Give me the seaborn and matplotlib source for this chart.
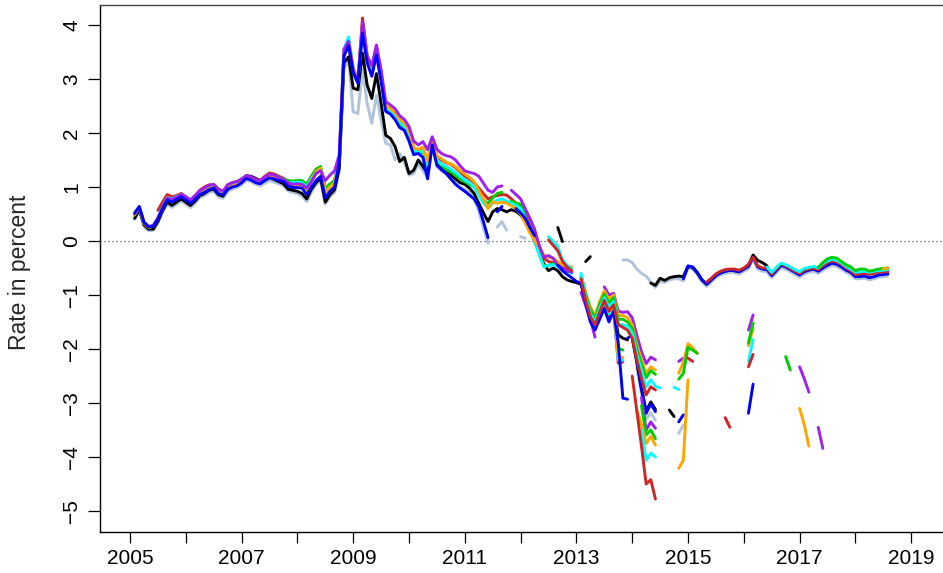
import matplotlib
matplotlib.use("Agg")
import matplotlib.pyplot as plt
import numpy as np
import pandas as pd
import seaborn as sns

NA = None
YEAR0 = 2005  # month index k is plotted at YEAR0 + k/12

# ---------------- colours ----------------
c_lsb = "#B0C4DE"
c_black = "#000000"
c_blue = "#0000FF"
c_red = "#CD2626"
c_green = "#00CD00"
c_cyan = "#00FFFF"
c_orange = "#FFA500"
c_purple = "#A020F0"

# ---------------- set A: long series 2005 - 2013 ----------------
lsb_a_k0 = 1
lsb_a = [0.40, 0.55, 0.27, 0.19, 0.20, 0.33, 0.53, 0.68, 0.62, 0.68,
         0.74, 0.68, 0.62, 0.70, 0.80, 0.84, 0.90, 0.92, 0.82, 0.79,
         0.91, 0.96, 0.99, 1.04, 1.12, 1.10, 1.05, 1.02, 1.07, 1.12,
         1.09, 1.06, 1.02, 0.93, 0.90, 0.88, 0.83, 0.73, 0.90, 1.04,
         1.11, 0.68, 0.82, 0.90, 1.30, 3.20, 3.35, 2.39, 2.36, 3.17,
         2.55, 2.18, 2.70, 2.24, 1.81, 1.78, 1.50, 1.62, 1.45, 1.22,
         1.25, 1.42, 1.30, 1.18, 1.80, 1.38, 1.30, 1.24, 1.15, 1.08,
         1.00, 0.96, 0.90, 0.78, 0.55, 0.25, -0.04, NA, 0.26, 0.36,
         0.20, NA, NA, 0.08, 0.05]

black_a_k0 = 1
black_a = [0.42, 0.58, 0.30, 0.22, 0.22, 0.36, 0.56, 0.72, 0.66, 0.72,
           0.78, 0.72, 0.66, 0.74, 0.84, 0.88, 0.94, 0.96, 0.86, 0.83,
           0.96, 1.02, 1.06, 1.12, 1.21, 1.20, 1.16, 1.12, 1.14, 1.18,
           1.14, 1.10, 1.06, 0.96, 0.94, 0.92, 0.88, 0.78, 0.96, 1.08,
           1.16, 0.72, 0.86, 0.95, 1.35, 3.30, 3.41, 2.83, 2.80, 3.48,
           2.89, 2.64, 3.10, 2.55, 1.96, 1.90, 1.75, 1.47, 1.55, 1.25,
           1.31, 1.50, 1.38, 1.25, 1.88, 1.45, 1.36, 1.30, 1.22, 1.15,
           1.08, 1.05, 0.98, 0.88, 0.70, 0.52, 0.36, 0.54, 0.60, 0.58,
           0.54, 0.58, 0.55, 0.48, 0.36, 0.20, 0.00, -0.22, -0.42, -0.55,
           -0.50, -0.55, -0.66, -0.72, -0.75, -0.77, -0.80, -1.09, -1.40, -1.62,
           -1.35, -1.19, -1.46, -1.25, -1.74, -1.80, -1.83]

blue_a_k0 = 1
blue_a = [0.52, 0.64, 0.35, 0.26, 0.27, 0.40, 0.60, 0.76, 0.72, 0.77,
          0.82, 0.76, 0.70, 0.77, 0.86, 0.90, 0.95, 0.98, 0.88, 0.85,
          0.96, 1.00, 1.02, 1.08, 1.16, 1.13, 1.08, 1.06, 1.12, 1.17,
          1.15, 1.12, 1.10, 1.02, 0.99, 0.99, 0.98, 0.86, 1.00, 1.12,
          1.20, 0.80, 0.92, 1.00, 1.45, 3.42, 3.62, 3.12, 2.92, 3.85,
          3.30, 3.05, 3.45, 2.95, 2.40, 2.35, 2.25, 2.10, 2.05, 1.85,
          1.60, 1.62, 1.55, 1.15, 1.78, 1.40, 1.32, 1.25, 1.15, 1.05,
          0.98, 0.92, 0.85, 0.78, 0.64, 0.36, 0.06, NA, 0.54, 0.64,
          NA, NA, 0.60, 0.52, 0.42, 0.25, 0.10, NA, NA, NA,
          NA, -0.45, -0.55, -0.62, -0.68, -0.75, -0.78, -1.15, -1.50, -1.65,
          -1.45, -1.25, -1.50, -1.30, -1.89, -2.91, -2.93]

red_a_k0 = 6
red_a = [0.57, 0.72, 0.86, 0.82, 0.84,
         0.88, 0.82, 0.76, 0.84, 0.94, 1.00, 1.04, 1.04, 0.96, 0.92,
         1.04, 1.08, 1.10, 1.14, 1.20, 1.18, 1.13, 1.12, 1.20, 1.26,
         1.24, 1.20, 1.16, 1.10, 1.06, 1.06, 1.06, 1.00, 1.12, 1.25,
         1.32, 0.95, 1.05, 1.12, 1.50, 3.50, 3.65, 3.20, 2.95, 4.13,
         3.45, 3.20, 3.60, 3.10, 2.50, 2.45, 2.35, 2.25, 2.15, 2.05,
         1.72, 1.68, 1.72, 1.45, 1.88, 1.55, 1.50, 1.45, 1.42, 1.36,
         1.28, 1.20, 1.15, 1.08, 0.98, 0.88, 0.78, 0.82, 0.84, 0.86,
         0.85, 0.78, 0.70, 0.67, 0.50, 0.28, 0.05, -0.18, -0.32, -0.38,
         -0.40, -0.41, -0.45, -0.50, -0.55, NA, -0.75, -1.12, -1.45, -1.60,
         -1.38, -1.18, -1.38, -1.28, -2.26, -2.24]

green_a_k0 = 1
green_a = [0.48, 0.62, 0.34, 0.26, 0.28, 0.42, 0.62, 0.78, 0.75, 0.80,
           0.84, 0.80, 0.73, 0.80, 0.89, 0.93, 0.98, 1.00, 0.92, 0.88,
           1.00, 1.03, 1.05, 1.11, 1.18, 1.16, 1.11, 1.09, 1.16, 1.22,
           1.20, 1.18, 1.15, 1.12, 1.11, 1.12, 1.12, 1.05, 1.20, 1.33,
           1.38, 0.98, 1.05, 1.12, 1.48, 3.50, 3.72, 3.18, 2.95, 3.95,
           3.38, 3.15, 3.55, 3.05, 2.42, 2.38, 2.25, 2.15, 2.10, 1.98,
           1.65, 1.62, 1.66, 1.40, 1.85, 1.50, 1.40, 1.32, 1.28, 1.22,
           1.15, 1.10, 1.05, 1.00, 0.88, 0.75, 0.70, 0.80, 0.88, 0.90,
           NA, 0.74, 0.70, 0.68, 0.45, 0.25, 0.02, -0.22, -0.47, -0.45,
           -0.42, -0.45, -0.50, -0.55, -0.58, NA, -0.70, -1.05, -1.35, -1.48,
           -1.25, -1.05, -1.25, -1.15, -1.99, -2.02]

cyan_a_k0 = 1
cyan_a = [0.50, 0.63, 0.34, 0.26, 0.28, 0.42, 0.62, 0.80, 0.78, 0.82,
          0.86, 0.80, 0.73, 0.80, 0.89, 0.93, 0.97, 0.99, 0.90, 0.87,
          0.99, 1.03, 1.05, 1.10, 1.17, 1.15, 1.10, 1.08, 1.14, 1.20,
          1.18, 1.15, 1.12, 1.08, 1.08, 1.09, 1.08, 1.00, 1.15, 1.28,
          1.34, 0.92, 1.00, 1.08, 1.48, 3.55, 3.78, 3.20, 2.95, 3.95,
          3.40, 3.15, 3.55, 3.05, 2.45, 2.40, 2.30, 2.20, 2.12, 2.00,
          1.68, 1.64, 1.68, 1.42, 1.86, 1.50, 1.42, 1.38, 1.33, 1.27,
          1.20, 1.13, 1.08, 1.00, 0.85, 0.70, 0.62, 0.70, 0.76, 0.78,
          0.74, 0.70, 0.66, 0.60, 0.42, 0.20, 0.00, -0.25, -0.48, -0.45,
          -0.44, -0.48, -0.52, -0.56, -0.60, NA, -0.68, -1.10, -1.42, -1.58,
          -1.35, -1.12, -1.35, -1.25, -2.20, -2.21]

orange_a_k0 = 1
orange_a = [0.49, 0.62, 0.33, 0.25, 0.27, 0.41, 0.60, 0.77, 0.74, 0.78,
            0.83, 0.78, 0.72, 0.78, 0.86, 0.92, 0.97, 0.99, 0.90, 0.86,
            0.98, 1.02, 1.04, 1.10, 1.17, 1.15, 1.10, 1.08, 1.15, 1.21,
            1.18, 1.15, 1.12, 1.06, 1.03, 1.04, 1.03, 0.95, 1.12, 1.28,
            1.35, 0.90, 1.00, 1.08, 1.50, 3.52, 3.68, 3.20, 2.97, 3.98,
            3.42, 3.22, 3.60, 3.12, 2.50, 2.45, 2.38, 2.25, 2.18, 2.05,
            1.72, 1.70, 1.74, 1.48, 1.88, 1.58, 1.52, 1.46, 1.43, 1.38,
            1.30, 1.24, 1.18, 1.10, 0.94, 0.78, 0.60, 0.73, 0.70, 0.72,
            0.70, 0.65, 0.60, 0.50, 0.33, 0.15, 0.02, -0.12, -0.26, -0.30,
            -0.32, -0.38, -0.44, -0.47, -0.48, NA, -0.72, -1.08, -1.38, -1.52,
            -1.28, -1.10, -1.30, -1.20, -2.14, -2.16]

purple_a_k0 = 1
purple_a = [0.50, 0.62, 0.35, 0.27, 0.29, 0.43, 0.62, 0.79, 0.77, 0.81,
            0.86, 0.82, 0.76, 0.84, 0.93, 0.98, 1.03, 1.05, 0.96, 0.92,
            1.04, 1.08, 1.10, 1.15, 1.21, 1.19, 1.14, 1.12, 1.18, 1.24,
            1.22, 1.18, 1.14, 1.08, 1.05, 1.06, 1.05, 0.98, 1.10, 1.25,
            1.30, 1.12, 1.22, 1.30, 1.60, 3.55, 3.70, 3.17, 2.95, 4.05,
            3.41, 3.25, 3.63, 3.17, 2.58, 2.52, 2.45, 2.32, 2.25, 2.12,
            1.85, 1.78, 1.84, 1.69, 1.93, 1.70, 1.62, 1.58, 1.56, 1.50,
            1.39, 1.30, 1.27, 1.25, 1.20, 1.07, 0.94, 0.90, 1.00, 1.02,
            NA, 0.94, 0.86, 0.78, 0.60, 0.42, 0.22, -0.08, -0.30, -0.27,
            -0.32, -0.45, -0.50, -0.55, -0.58, NA, -0.95, -1.20, -1.45, -1.78]

# ---------------- set B: 2012.5 onwards, upper fragments ----------------
purple_b_k0 = 102
purple_b = ([-0.85, -1.00, -0.97, -1.30, -1.32, -1.31, -1.42, -1.75, -2.05, -2.27, -2.15, -2.20]
            + [NA] * 4 + [-2.23, -2.17] + [NA] * 13 + [-1.65, -1.37]
            + [NA] * 9 + [-2.33, -2.55, -2.80])

orange_b_k0 = 97
orange_b = ([-0.62, -0.95, -1.22, -1.38, -1.12, -0.92, -1.08, -1.00, -1.38, -1.38,
             -1.42, -1.55, -1.92, -2.20, -2.45, -2.33, -2.39]
            + [NA] * 4 + [-2.45, -2.25, -1.90, -1.98, -2.08]
            + [NA] * 10 + [-1.94, -1.62])

green_b_k0 = 97
green_b = ([-0.65, -1.00, -1.28, -1.42, -1.18, -0.98, -1.15, -1.05, -1.45, -1.45,
            -1.50, -1.62, -2.00, -2.28, -2.53, -2.40, -2.47]
           + [NA] * 4 + [-2.56, -2.45, -1.97, -2.02, -2.08]
           + [NA] * 10 + [-1.89, -1.52] + [NA] * 6 + [-2.14, -2.39])

cyan_b_k0 = 90
cyan_b = ([0.08, -0.01, -0.10, -0.35, -0.45, -0.51, NA,
           -0.60, -1.05, -1.35, -1.50, -1.25, -1.05, -1.22, -1.12, -1.55, -1.55,
           -1.58, -1.70, -2.10, -2.40, -2.70, -2.57, -2.69, -2.72]
          + [NA] * 2 + [-2.71, -2.75] + [NA] * 14 + [-2.23, -1.83])

red_b_k0 = 90
red_b = ([0.02, -0.08, -0.18, -0.38, -0.48, -0.55, NA,
          -0.70, -1.10, -1.40, -1.55, -1.32, -1.10, -1.30, -1.18, -1.55, -1.60,
          -1.65, -1.80, -2.20, -2.55, -2.85, -2.70, -2.76]
         + [NA] * 6 + [-2.17, -2.23] + [NA] * 11 + [-2.33, -2.10])

# ---------------- set C: lower fragments ----------------
black_c_k0 = 92
black_c = ([0.25, -0.01, NA, NA, NA, NA, -0.38, -0.29]
           + [NA] * 8 + [-1.80, -2.25, -2.75, -3.15, -2.98, -3.12]
           + [NA] * 2 + [-3.13, -3.25])

blue_c_k0 = 107
blue_c = ([-1.80, -1.74, -2.22, -2.72, -3.19, -3.02, -3.16]
          + [NA] * 4 + [-3.35, -3.22] + [NA] * 13 + [-3.19, -2.65])

lsb_c_k0 = 109
lsb_c = [-2.35, -2.85, -3.30, -3.18, -3.32] + [NA] * 4 + [-3.56, -3.41]

purple_c_k0 = 110
purple_c = [-2.90, -3.50, -3.35, -3.47] + [NA] * 34 + [-3.45, -3.84]

green_c_k0 = 110
green_c = [-3.05, -3.59, -3.50, -3.66]

orange_c_k0 = 109
orange_c = ([-3.13, -3.40, -3.75, -3.62, -3.78] + [NA] * 4 + [-4.21, -4.06, -2.57]
            + [NA] * 23 + [-3.10, -3.40, -3.80])

cyan_c_k0 = 110
cyan_c = [-3.50, -4.06, -3.93, -4.00]

red_c_k0 = 108
red_c = [-2.50, -3.15, -3.80, -4.50, -4.42, -4.78] + [NA] * 14 + [-3.27, -3.45]

# ---------------- set D: upper group 2013.8 - 2018.6 ----------------
lsb_d_k0 = 106
lsb_d = [-0.35, -0.35, -0.40, -0.52, -0.60, -0.65, -0.76, -0.86, -0.74, -0.77, -0.72, -0.70, -0.70, -0.74,
         -0.50, -0.52, -0.62, -0.76, -0.84, -0.76, -0.68, -0.63, -0.60, -0.58,
         -0.59, -0.61, -0.56, -0.51, -0.34, -0.52, -0.56, -0.57, -0.68, -0.59,
         -0.49, -0.52, -0.57, -0.62, -0.67, -0.61, -0.58, -0.56, -0.60, -0.54,
         -0.49, -0.45, -0.47, -0.52, -0.58, -0.62, -0.70, -0.70, -0.69, -0.72,
         -0.70, -0.67, -0.66, -0.65]

black_d_k0 = 112
black_d = [-0.78, -0.82, -0.69, -0.73, -0.68, -0.66, -0.65, -0.66,
           -0.47, -0.49, -0.59, -0.72, -0.80, -0.72, -0.64, -0.59, -0.56, -0.54,
           -0.55, -0.57, -0.52, -0.45, -0.26, -0.36, -0.40, -0.46]

blue_d_k0 = 119
blue_d = [-0.70,
          -0.46, -0.48, -0.58, -0.72, -0.80, -0.72, -0.64, -0.59, -0.56, -0.54,
          -0.55, -0.57, -0.52, -0.47, -0.30, -0.48, -0.52, -0.53, -0.64, -0.55,
          -0.45, -0.48, -0.53, -0.58, -0.63, -0.57, -0.54, -0.52, -0.56, -0.50,
          -0.45, -0.41, -0.43, -0.48, -0.54, -0.58, -0.66, -0.66, -0.65, -0.68,
          -0.66, -0.63, -0.62, -0.61]

red_d_k0 = 124
red_d = [-0.76, -0.69, -0.61, -0.56, -0.53, -0.52,
         -0.52, -0.54, -0.50, -0.43, -0.30, -0.46, -0.50, -0.50, -0.61, -0.52,
         -0.42, -0.46, -0.51, -0.56, -0.60, -0.54, -0.52, -0.50, -0.53, -0.46,
         -0.40, -0.37, -0.39, -0.44, -0.50, -0.55, -0.62, -0.61, -0.60, -0.62,
         -0.60, -0.58, -0.57, -0.57]

cyan_d_k0 = 137
cyan_d = [-0.48, -0.58, -0.49,
          -0.41, -0.44, -0.48, -0.53, -0.57, -0.51, -0.49, -0.47, -0.50, -0.42,
          -0.37, -0.34, -0.36, -0.41, -0.47, -0.52, -0.58, -0.57, -0.56, -0.58,
          -0.56, -0.55, -0.54, -0.53]

green_d_k0 = 148
green_d = [-0.49, -0.40, -0.33, -0.30, -0.32, -0.38, -0.44, -0.48,
           -0.55, -0.52, -0.52, -0.56, -0.54, -0.52, -0.51, -0.50]

orange_d_k0 = 162
orange_d = [-0.52, -0.50]

# drawing order (first = bottom)
series = [
    ("lsb_a", lsb_a_k0, lsb_a, c_lsb),
    ("black_a", black_a_k0, black_a, c_black),
    ("red_a", red_a_k0, red_a, c_red),
    ("green_a", green_a_k0, green_a, c_green),
    ("cyan_a", cyan_a_k0, cyan_a, c_cyan),
    ("orange_a", orange_a_k0, orange_a, c_orange),
    ("purple_a", purple_a_k0, purple_a, c_purple),
    ("blue_a", blue_a_k0, blue_a, c_blue),
    ("lsb_c", lsb_c_k0, lsb_c, c_lsb),
    ("black_c", black_c_k0, black_c, c_black),
    ("blue_c", blue_c_k0, blue_c, c_blue),
    ("purple_c", purple_c_k0, purple_c, c_purple),
    ("green_c", green_c_k0, green_c, c_green),
    ("orange_c", orange_c_k0, orange_c, c_orange),
    ("cyan_c", cyan_c_k0, cyan_c, c_cyan),
    ("red_c", red_c_k0, red_c, c_red),
    ("purple_b", purple_b_k0, purple_b, c_purple),
    ("orange_b", orange_b_k0, orange_b, c_orange),
    ("green_b", green_b_k0, green_b, c_green),
    ("cyan_b", cyan_b_k0, cyan_b, c_cyan),
    ("red_b", red_b_k0, red_b, c_red),
    ("lsb_d", lsb_d_k0, lsb_d, c_lsb),
    ("black_d", black_d_k0, black_d, c_black),
    ("blue_d", blue_d_k0, blue_d, c_blue),
    ("red_d", red_d_k0, red_d, c_red),
    ("cyan_d", cyan_d_k0, cyan_d, c_cyan),
    ("green_d", green_d_k0, green_d, c_green),
    ("orange_d", orange_d_k0, orange_d, c_orange),
]

rows = []
for name, k0, vals, col in series:
    seg = 0
    gap = True
    for i, v in enumerate(vals):
        if v is None:
            gap = True
            continue
        if gap:
            seg += 1
            gap = False
        rows.append({"t": YEAR0 + (k0 + i) / 12.0, "v": v,
                     "series": name, "seg": f"{name}#{seg}"})
df = pd.DataFrame(rows)

sns.set_style("ticks", {"axes.edgecolor": "black", "xtick.color": "black",
                        "ytick.color": "black", "axes.linewidth": 1.0})
plt.rcParams["font.family"] = ["Liberation Sans", "DejaVu Sans"]

W, H = 943, 573
fig = plt.figure(figsize=(W / 100, H / 100), dpi=100)
ax = fig.add_axes([100 / W, 1 - 532 / H, (996 - 100) / W, (532 - 5) / H])

ax.axhline(0, color="#333333", lw=0.8, linestyle=(0, (1, 2.6)), zorder=0)

palette = {name: col for name, k0, vals, col in series}
order = [name for name, k0, vals, col in series]
sns.lineplot(data=df, x="t", y="v", hue="series", hue_order=order, palette=palette,
             units="seg", estimator=None, sort=False, legend=False, ax=ax,
             linewidth=2.1, solid_capstyle="round", solid_joinstyle="round")

ax.set_xlim(2004.4624, 2020.5197)
ax.set_ylim(-5.3889, 4.3704)

years = list(range(2005, 2020))
ax.set_xticks(years)
ax.set_xticklabels([str(y) if y % 2 == 1 else "" for y in years])
yt = list(range(-5, 5))
ax.set_yticks(yt)
ax.set_yticklabels([str(v).replace("-", "\u2212") for v in yt], rotation=90, va="center")

ax.tick_params(axis="x", length=8, width=0.9, labelsize=15, pad=4)
ax.tick_params(axis="y", length=8.5, width=0.9, labelsize=15, pad=5)
ax.set_xlabel("")
ax.set_ylabel("")
for s in ["left", "bottom"]:
    ax.spines[s].set_visible(True)
    ax.spines[s].set_color("black")
    ax.spines[s].set_linewidth(1.0)
ax.spines["top"].set_visible(True)
ax.spines["top"].set_color("#444444")
ax.spines["top"].set_linewidth(1.0)
ax.spines["right"].set_visible(False)

fig.text(20 / W, 1 - 272 / H, "Rate in percent", rotation=90, ha="center", va="center",
         fontsize=16.5)

fig.savefig("out.png", dpi=100)
